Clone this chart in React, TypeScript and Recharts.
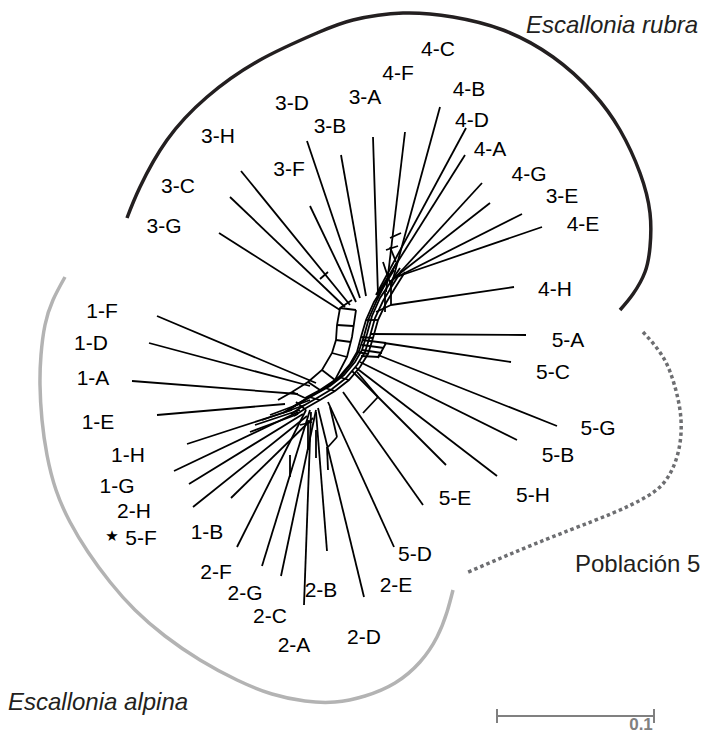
import { ComposedChart, Line, Scatter, XAxis, YAxis } from "recharts"

type Pt = { x: number; y: number }
type Edge = [string, number, number, number, number]

// pairs of numbers -> points
const toPts = (c: number[]): Pt[] => {
  const out: Pt[] = []
  for (let i = 0; i < c.length; i += 2) out.push({ x: c[i], y: c[i + 1] })
  return out
}

// edges: taxon, base x/y (in the network core), tip x/y
const EDGES_POP3: Edge[] = [
  ["3-D", 360, 298, 307, 141],
  ["3-B", 366, 296, 341, 155],
  ["3-H", 350, 305, 241, 171],
  ["3-F", 356, 302, 310, 206],
  ["3-C", 345, 307, 230, 197],
  ["3-G", 340, 310, 219, 233],
]

const EDGES_POP4: Edge[] = [
  ["3-A", 378, 295, 373, 137],
  ["4-F", 386, 292, 405, 132],
  ["4-C", 390, 290, 440, 107],
  ["4-B", 376, 295, 466, 128],
  ["4-D", 378, 293, 465, 155],
  ["4-A", 393, 280, 482, 183],
  ["4-G", 394, 278, 490, 203],
  ["3-E", 395, 278, 522, 214],
  ["4-E", 396, 277, 542, 227],
  ["4-H", 391, 305, 514, 287],
]

const EDGES_POP5: Edge[] = [
  ["5-A", 370, 334, 526, 335],
  ["5-C", 384, 343, 511, 362],
  ["5-G", 378, 355, 557, 426],
  ["5-B", 360, 362, 517, 440],
  ["5-H", 355, 367, 497, 476],
  ["5-E", 352, 371, 446, 465],
  ["5-D", 343, 392, 423, 505],
  ["2-E", 328, 402, 394, 547],
]

const EDGES_POP1: Edge[] = [
  ["1-F", 316, 383, 157, 316],
  ["1-D", 310, 386, 149, 343],
  ["1-A", 298, 394, 132, 381],
  ["1-E", 285, 404, 157, 415],
  ["1-H", 292, 410, 187, 444],
  ["1-G", 298, 412, 174, 471],
  ["2-H", 303, 414, 189, 484],
  ["5-F", 307, 416, 193, 507],
  ["1-B", 313, 418, 231, 498],
]

const EDGES_POP2: Edge[] = [
  ["2-F", 306, 410, 237, 547],
  ["2-G", 310, 410, 262, 566],
  ["2-C", 316, 410, 281, 576],
  ["2-A", 311, 412, 304, 605],
  ["2-B", 316, 412, 327, 551],
  ["2-D", 318, 408, 364, 597],
]

// splits graph core: parallel strands of the central spine and the left loop
const CORE_STRANDS: number[][] = [
  [400, 268, 390, 283, 380, 298, 372, 316, 367, 334, 362, 350, 355, 362, 344, 375, 330, 386, 314, 395, 300, 403, 288, 410],
  [397, 262, 387, 280, 377, 300, 369, 318, 364, 336, 359, 351, 352, 363, 341, 376, 327, 387, 311, 396, 297, 404, 285, 412],
  [394, 270, 384, 286, 374, 302, 366, 320, 361, 337, 357, 352, 350, 364, 339, 377, 325, 388, 309, 397, 295, 406, 283, 413],
  [402, 270, 392, 286, 383, 301, 375, 318, 370, 336, 365, 352, 357, 365, 346, 378, 332, 389, 317, 398, 303, 406, 291, 414],
  [405, 272, 395, 288, 386, 303, 378, 320, 373, 338, 368, 354, 360, 367, 349, 380, 335, 391, 320, 400, 306, 408, 294, 416],
  [352, 300, 340, 308, 337, 325, 336, 340, 332, 353, 322, 370, 308, 382, 292, 392, 278, 400],
  [356, 310, 352, 337, 347, 357, 335, 380, 320, 390, 305, 398],
]

// short cross edges (boxes of the network)
const CORE_RUNGS: number[][] = [
  [366, 320, 378, 320], [361, 337, 373, 338], [357, 352, 368, 354],
  [339, 377, 349, 380], [325, 388, 335, 391], [309, 397, 320, 400],
  [340, 308, 356, 310], [337, 325, 353, 326], [336, 340, 351, 342],
  [332, 353, 347, 357], [322, 370, 335, 380], [308, 382, 320, 390], [292, 392, 305, 398],
  [386, 250, 398, 246], [390, 238, 401, 233], [383, 262, 390, 283], [390, 247, 396, 262],
  [391, 280, 391, 305], [385, 292, 385, 312], [376, 312, 391, 305],
  [386, 343, 378, 358], [362, 340, 386, 343], [362, 345, 384, 348],
  [362, 350, 382, 353], [361, 356, 379, 357],
  [357, 372, 378, 397], [378, 397, 363, 413],
  [320, 279, 328, 272],
  [308, 420, 308, 450], [330, 407, 337, 437], [337, 437, 328, 447],
  [316, 430, 316, 458], [290, 455, 290, 477], [327, 447, 328, 470],
  [300, 425, 312, 422], [296, 402, 306, 410],
  [255, 425, 300, 410], [262, 420, 305, 405], [270, 415, 310, 400], [250, 432, 298, 414],
]

const ARC_RUBRA = [
  127, 218, 140, 187, 167, 140, 207, 97, 260, 60, 317, 33, 353, 20, 403, 13, 453, 17,
  503, 30, 553, 57, 593, 93, 620, 130, 640, 173, 650, 213, 650, 247, 645, 272, 633, 294, 620, 310,
]
const ARC_ALPINA = [
  65, 277, 53, 300, 45, 325, 41, 355, 40, 385, 42, 420, 47, 455, 56, 490, 70, 522, 88, 552,
  110, 582, 135, 610, 165, 636, 200, 660, 237, 680, 272, 694, 305, 701, 335, 702,
  365, 696, 395, 683, 420, 662, 437, 637, 447, 612, 453, 590,
]
const ARC_POB5 = [
  643, 332, 663, 357, 675, 387, 681, 420, 678, 453, 666, 480, 646, 497, 613, 513, 570, 530, 520, 550, 466, 573,
]

// taxon label centres
const LABELS: [string, number, number][] = [
  ["3-D", 292, 102], ["3-A", 365, 96], ["4-F", 398, 72], ["4-C", 438, 48], ["4-B", 469, 88],
  ["4-D", 472, 119], ["4-A", 490, 148], ["4-G", 529, 173], ["3-E", 562, 195], ["4-E", 583, 223],
  ["4-H", 555, 288], ["3-B", 330, 125], ["3-H", 218, 135], ["3-F", 289, 168], ["3-C", 178, 185],
  ["3-G", 164, 225], ["5-A", 568, 339], ["5-C", 553, 371], ["5-G", 598, 427], ["5-B", 558, 454],
  ["5-H", 533, 494], ["5-E", 455, 497], ["5-D", 415, 553], ["2-E", 396, 584], ["2-D", 364, 636],
  ["2-B", 321, 589], ["2-A", 294, 644], ["2-C", 270, 615], ["2-G", 245, 592], ["2-F", 216, 571],
  ["1-B", 207, 531], ["5-F", 141, 537], ["2-H", 134, 510], ["1-G", 117, 485], ["1-H", 128, 454],
  ["1-E", 98, 421], ["1-A", 93, 377], ["1-D", 91, 342], ["1-F", 102, 310],
]
const STAR = [{ x: 112, y: 536, name: "★" }]

const SPECIES = [
  { x: 526, y: 33, name: "Escallonia rubra" },
  { x: 8, y: 710, name: "Escallonia alpina" },
]
const GROUP_NOTE = [{ x: 575, y: 572, name: "Población 5" }]

const SCALE_BAR = [497, 716, 654, 716]
const SCALE_TICKS = [[497, 709, 497, 723], [654, 709, 654, 723]]
const SCALE_LABEL = [{ x: 641, y: 730, name: "0.1" }]

const FONT = "'Liberation Sans', Arial, sans-serif"

const allEdges = [...EDGES_POP3, ...EDGES_POP4, ...EDGES_POP5, ...EDGES_POP1, ...EDGES_POP2]
const networkLines: Pt[][] = [
  ...allEdges.map((e) => toPts([e[1], e[2], e[3], e[4]])),
  ...CORE_STRANDS.map(toPts),
  ...CORE_RUNGS.map(toPts),
]
const labelData = LABELS.map(([name, x, y]) => ({ name, x, y }))

const textShape = (style: Record<string, any>, dy = "0") => (p: any) => (
  <text x={p.cx} y={p.cy} dy={dy} fontFamily={FONT} {...style}>
    {p.payload.name}
  </text>
)

export default function App() {
  return (
    <>
      <style>{"body{margin:0;background:#fff}"}</style>
      <ComposedChart width={706} height={735} margin={{ top: 0, right: 0, bottom: 0, left: 0 }}>
        <XAxis type="number" dataKey="x" domain={[0, 706]} hide allowDataOverflow />
        <YAxis type="number" dataKey="y" domain={[0, 735]} reversed hide allowDataOverflow />

        <Line data={toPts(ARC_RUBRA)} dataKey="y" type="natural" stroke="#231f20" strokeWidth={3.5} dot={false} isAnimationActive={false} />
        <Line data={toPts(ARC_ALPINA)} dataKey="y" type="natural" stroke="#b3b3b3" strokeWidth={3.5} dot={false} isAnimationActive={false} />
        <Line data={toPts(ARC_POB5)} dataKey="y" type="natural" stroke="#6d6e71" strokeWidth={3.5} strokeDasharray="3.5 3" dot={false} isAnimationActive={false} />

        {networkLines.map((d, i) => (
          <Line key={i} data={d} dataKey="y" type="linear" stroke="#000" strokeWidth={1.8} dot={false} isAnimationActive={false} />
        ))}

        <Line data={toPts(SCALE_BAR)} dataKey="y" type="linear" stroke="#808080" strokeWidth={2} dot={false} isAnimationActive={false} />
        {SCALE_TICKS.map((t, i) => (
          <Line key={"t" + i} data={toPts(t)} dataKey="y" type="linear" stroke="#808080" strokeWidth={2} dot={false} isAnimationActive={false} />
        ))}

        <Scatter data={labelData} shape={textShape({ fontSize: 21, textAnchor: "middle", fill: "#000" }, "0.36em")} isAnimationActive={false} />
        <Scatter data={STAR} shape={textShape({ fontSize: 15, textAnchor: "middle", fill: "#000", fontFamily: "DejaVu Sans" }, "0.36em")} isAnimationActive={false} />
        <Scatter data={SPECIES} shape={textShape({ fontSize: 24, fontStyle: "italic", fill: "#231f20" })} isAnimationActive={false} />
        <Scatter data={GROUP_NOTE} shape={textShape({ fontSize: 24, fill: "#231f20" })} isAnimationActive={false} />
        <Scatter data={SCALE_LABEL} shape={textShape({ fontSize: 17, fontWeight: "bold", textAnchor: "middle", fill: "#808080" })} isAnimationActive={false} />
      </ComposedChart>
    </>
  )
}
